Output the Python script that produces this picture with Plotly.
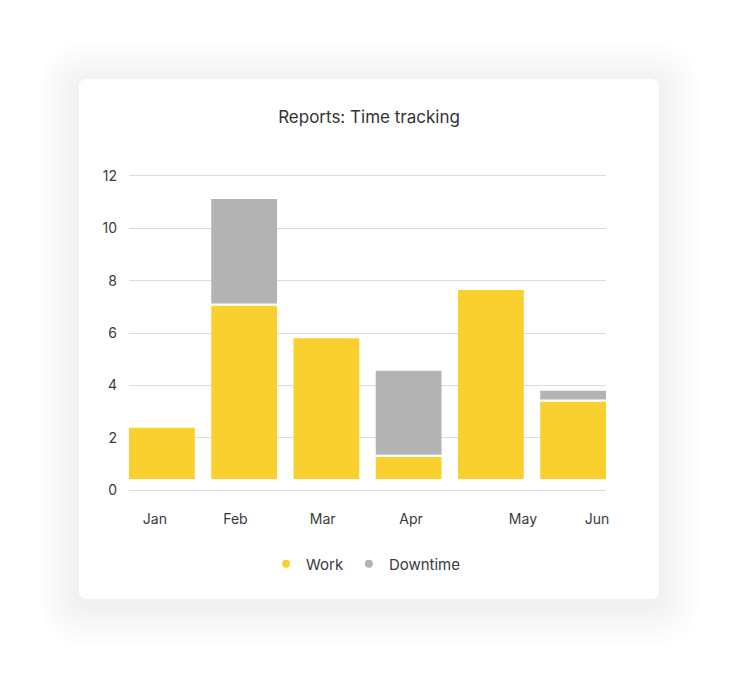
import plotly.graph_objects as go

# ---- data ----
months = ["Jan", "Feb", "Mar", "Apr", "May", "Jun"]
work = [2.38, 7.04, 5.80, 1.26, 7.64, 3.37]          # top of the Work segment
downtime = [None, 3.99, None, 3.21, None, 0.33]       # Downtime segment height
y_ticks = [0, 2, 4, 6, 8, 10, 12]

# ---- layout constants ----
W, H = 738, 678
OFF = 8  # page body margin
L = 129 - OFF
T = 176 - OFF
R = W - (606 - OFF)
B = H - (490 - OFF)
PW, PH = W - L - R, H - T - B
BAR_BASE = 0.42
SEG_GAP = 0.09
LABEL_POS = [-0.085, 0.894, 1.955, 3.03, 4.39, 5.29]   # month label placement
YELLOW = "#FAD02F"
GRAY = "#B3B3B3"
GRID = "#dcdcdc"
TEXT = "#3a3a3a"
FONT = "Inter"


def xp(px):
    return (px - OFF - L) / PW


def yp(py):
    return (H - B - (py - OFF)) / PH


def rrect(x0, y0, x1, y1, r):
    pts = [
        ("M", [(x0 + r, y0)]),
        ("L", [(x1 - r, y0)]),
        ("Q", [(x1, y0), (x1, y0 + r)]),
        ("L", [(x1, y1 - r)]),
        ("Q", [(x1, y1), (x1 - r, y1)]),
        ("L", [(x0 + r, y1)]),
        ("Q", [(x0, y1), (x0, y1 - r)]),
        ("L", [(x0, y0 + r)]),
        ("Q", [(x0, y0), (x0 + r, y0)]),
    ]
    s = ""
    for cmd, ps in pts:
        s += cmd + " " + " ".join(f"{xp(a):.5f},{yp(b):.5f}" for a, b in ps) + " "
    return s + "Z"


shapes = []
# soft shadow
for s in range(3, 45, 3):
    shapes.append(dict(type="path", xref="paper", yref="paper",
                       path=rrect(79 - s, 79 - s + 5, 659 + s, 599 + s + 5, 8 + s),
                       fillcolor="rgba(0,0,0,0.004)", line=dict(width=0), layer="below"))
# card
shapes.append(dict(type="path", xref="paper", yref="paper",
                   path=rrect(79, 79, 659, 599, 8),
                   fillcolor="white", line=dict(width=0), layer="below"))

work_h = [w - BAR_BASE for w in work]
down_base = [w + SEG_GAP for w in work]

fig = go.Figure()
fig.add_trace(go.Bar(x=months, y=work_h, base=BAR_BASE, width=0.8,
                     marker=dict(color=YELLOW, line=dict(width=0)),
                     name="Work", showlegend=False))
fig.add_trace(go.Bar(x=months, y=downtime, base=down_base, width=0.8,
                     marker=dict(color=GRAY, line=dict(width=0)),
                     name="Downtime", showlegend=False))
# legend entries (round dots)
fig.add_trace(go.Scatter(x=[None], y=[None], mode="markers", name="Work",
                         marker=dict(color=YELLOW, size=8, symbol="circle")))
fig.add_trace(go.Scatter(x=[None], y=[None], mode="markers", name="Downtime",
                         marker=dict(color=GRAY, size=8, symbol="circle")))
# invisible trace on the label axis
fig.add_trace(go.Scatter(x=[LABEL_POS[0]], y=[None], xaxis="x2", mode="markers",
                         showlegend=False, hoverinfo="skip"))

fig.update_layout(
    width=W, height=H,
    margin=dict(l=L, r=R, t=T, b=B, autoexpand=False),
    paper_bgcolor="white", plot_bgcolor="rgba(0,0,0,0)",
    barmode="overlay",
    font=dict(family=FONT, color=TEXT, size=14),
    title=dict(text="Reports: Time tracking", x=xp(369), xref="paper",
               xanchor="center", y=1 - (117 - OFF) / H, yanchor="middle",
               font=dict(size=17, color="#333333", family=FONT)),
    shapes=shapes,
    xaxis=dict(type="category", range=[-0.4, 5.4], showticklabels=False,
               showgrid=False, zeroline=False, showline=True, mirror=True,
               linecolor=GRID, linewidth=1, fixedrange=True),
    xaxis2=dict(overlaying="x", anchor="y", side="bottom", range=[-0.4, 5.4],
                tickvals=LABEL_POS, ticktext=months, showgrid=False,
                zeroline=False, showline=False, ticks="outside", ticklen=16,
                tickcolor="rgba(0,0,0,0)", tickfont=dict(size=14, color=TEXT)),
    yaxis=dict(range=[0, 12], tickvals=y_ticks, showgrid=True,
               gridcolor=GRID, gridwidth=1, zeroline=False, showline=False,
               ticks="", ticklabelstandoff=11, tickfont=dict(size=14, color=TEXT)),
    legend=dict(orientation="h", x=xp(366), xanchor="center",
                y=yp(564), yanchor="middle", font=dict(size=15, color=TEXT),
                itemsizing="trace", bgcolor="rgba(0,0,0,0)"),
    hovermode=False,
)

fig.write_html("out.html")
